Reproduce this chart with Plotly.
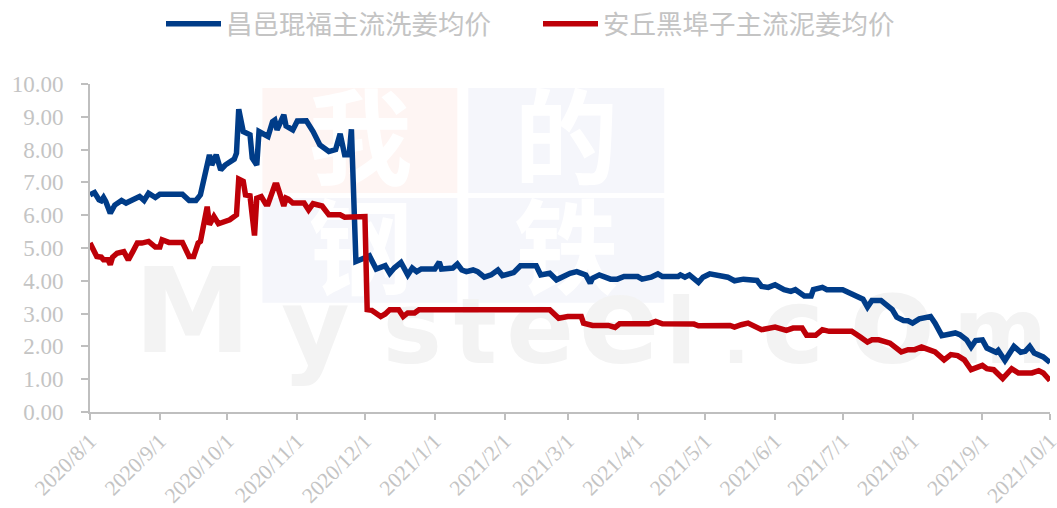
import plotly.graph_objects as go

blue_name = "昌邑琨福主流洗姜均价"
red_name = "安丘黑埠子主流泥姜均价"
x_ticks = ["2020-08-01","2020-09-01","2020-10-01","2020-11-01","2020-12-01","2021-01-01","2021-02-01","2021-03-01",
           "2021-04-01","2021-05-01","2021-06-01","2021-07-01","2021-08-01","2021-09-01","2021-10-01"]
x_tick_labels = ["2020/8/1","2020/9/1","2020/10/1","2020/11/1","2020/12/1","2021/1/1","2021/2/1","2021/3/1",
                 "2021/4/1","2021/5/1","2021/6/1","2021/7/1","2021/8/1","2021/9/1","2021/10/1"]
y_ticks = [0,1,2,3,4,5,6,7,8,9,10]
y_tick_labels = ["0.00","1.00","2.00","3.00","4.00","5.00","6.00","7.00","8.00","9.00","10.00"]

blue_dates = """2020-08-01 2020-08-03 2020-08-05 2020-08-06 2020-08-07 2020-08-08 2020-08-10 2020-08-12 2020-08-15 2020-08-17
2020-08-20 2020-08-22 2020-08-23 2020-08-25 2020-08-27 2020-08-30 2020-09-01 2020-09-11 2020-09-14 2020-09-17
2020-09-19 2020-09-23 2020-09-24 2020-09-26 2020-09-28 2020-09-30 2020-10-04 2020-10-05 2020-10-06 2020-10-08
2020-10-11 2020-10-12 2020-10-14 2020-10-15 2020-10-19 2020-10-21 2020-10-22 2020-10-23 2020-10-26 2020-10-27
2020-10-30 2020-11-01 2020-11-05 2020-11-08 2020-11-11 2020-11-15 2020-11-18 2020-11-20 2020-11-22 2020-11-24
2020-11-25 2020-11-27 2020-11-30 2020-12-03 2020-12-06 2020-12-10 2020-12-12 2020-12-14 2020-12-17 2020-12-20
2020-12-22 2020-12-24 2020-12-26 2021-01-01 2021-01-03 2021-01-04 2021-01-09 2021-01-11 2021-01-13 2021-01-15
2021-01-18 2021-01-20 2021-01-23 2021-01-26 2021-01-29 2021-01-31 2021-02-05 2021-02-08 2021-02-15 2021-02-17
2021-02-21 2021-02-24 2021-03-02 2021-03-05 2021-03-09 2021-03-11 2021-03-12 2021-03-15 2021-03-20 2021-03-23
2021-03-26 2021-04-01 2021-04-03 2021-04-07 2021-04-10 2021-04-12 2021-04-19 2021-04-20 2021-04-22 2021-04-24
2021-04-28 2021-04-30 2021-05-03 2021-05-07 2021-05-11 2021-05-14 2021-05-16 2021-05-18 2021-05-24 2021-05-26
2021-05-29 2021-06-01 2021-06-05 2021-06-08 2021-06-10 2021-06-14 2021-06-17 2021-06-18 2021-06-22 2021-06-24
2021-07-01 2021-07-04 2021-07-10 2021-07-12 2021-07-14 2021-07-18 2021-07-20 2021-07-23 2021-07-25 2021-07-28
2021-07-30 2021-08-01 2021-08-04 2021-08-06 2021-08-09 2021-08-11 2021-08-14 2021-08-20 2021-08-22 2021-08-25
2021-08-27 2021-08-29 2021-09-01 2021-09-03 2021-09-07 2021-09-08 2021-09-11 2021-09-15 2021-09-18 2021-09-20
2021-09-22 2021-09-24 2021-09-28 2021-10-01""".split()
blue_values = [6.62,6.69,6.47,6.44,6.54,6.42,6.06,6.31,6.45,6.37,
               6.47,6.55,6.57,6.45,6.67,6.54,6.64,6.64,6.45,6.45,
               6.62,7.84,7.53,7.84,7.38,7.53,7.71,7.89,9.23,8.55,
               8.45,7.74,7.53,8.55,8.40,8.85,8.90,8.60,9.06,8.72,
               8.60,8.87,8.88,8.55,8.14,7.94,8.00,8.48,7.84,7.84,
               8.62,4.59,4.66,4.76,4.36,4.46,4.23,4.39,4.56,4.18,
               4.39,4.28,4.36,4.36,4.57,4.36,4.39,4.51,4.33,4.28,
               4.33,4.28,4.11,4.18,4.33,4.16,4.25,4.46,4.46,4.18,
               4.23,4.03,4.23,4.28,4.18,3.93,4.08,4.18,4.05,4.05,
               4.13,4.13,4.05,4.11,4.21,4.13,4.13,4.18,4.11,4.18,
               3.95,4.11,4.21,4.15,4.11,4.00,4.01,4.05,4.01,3.83,
               3.80,3.88,3.73,3.68,3.73,3.54,3.54,3.73,3.80,3.73,
               3.73,3.62,3.44,3.20,3.40,3.40,3.30,3.12,2.89,2.79,
               2.78,2.71,2.84,2.86,2.91,2.71,2.33,2.41,2.36,2.20,
               1.98,2.18,2.20,1.95,1.82,1.88,1.57,2.00,1.82,1.85,
               2.00,1.80,1.68,1.51]

red_dates = """2020-08-01 2020-08-03 2020-08-04 2020-08-06 2020-08-07 2020-08-09 2020-08-10 2020-08-11 2020-08-13 2020-08-16
2020-08-18 2020-08-20 2020-08-22 2020-08-24 2020-08-27 2020-08-30 2020-09-01 2020-09-02 2020-09-05 2020-09-11
2020-09-14 2020-09-16 2020-09-18 2020-09-19 2020-09-22 2020-09-23 2020-09-25 2020-09-27 2020-09-30 2020-10-02
2020-10-05 2020-10-06 2020-10-08 2020-10-09 2020-10-11 2020-10-13 2020-10-14 2020-10-16 2020-10-18 2020-10-19
2020-10-22 2020-10-23 2020-10-26 2020-10-27 2020-10-28 2020-10-30 2020-11-04 2020-11-06 2020-11-08 2020-11-12
2020-11-15 2020-11-20 2020-11-22 2020-12-01 2020-12-02 2020-12-04 2020-12-08 2020-12-10 2020-12-12 2020-12-16
2020-12-18 2020-12-20 2020-12-23 2020-12-25 2021-02-21 2021-02-25 2021-03-01 2021-03-07 2021-03-08 2021-03-12
2021-03-19 2021-03-22 2021-03-24 2021-04-06 2021-04-09 2021-04-12 2021-04-26 2021-04-28 2021-05-12 2021-05-14
2021-05-17 2021-05-20 2021-05-26 2021-05-28 2021-06-01 2021-06-06 2021-06-09 2021-06-13 2021-06-15 2021-06-19
2021-06-22 2021-06-25 2021-07-05 2021-07-09 2021-07-12 2021-07-14 2021-07-17 2021-07-22 2021-07-27 2021-07-30
2021-08-02 2021-08-05 2021-08-11 2021-08-15 2021-08-18 2021-08-21 2021-08-24 2021-08-27 2021-09-01 2021-09-03
2021-09-06 2021-09-10 2021-09-14 2021-09-17 2021-09-23 2021-09-26 2021-09-28 2021-10-01""".split()
red_values = [5.15,4.89,4.74,4.72,4.64,4.64,4.49,4.72,4.84,4.89,
              4.64,4.89,5.15,5.15,5.20,5.03,5.03,5.25,5.17,5.17,
              4.74,4.74,5.15,5.20,6.26,5.71,5.96,5.74,5.84,5.86,
              6.01,7.10,7.03,6.62,6.59,5.38,6.52,6.57,6.34,6.34,
              6.92,6.92,6.28,6.52,6.49,6.37,6.37,6.16,6.35,6.28,
              6.01,6.01,5.94,5.96,3.12,3.10,2.91,2.99,3.12,3.12,
              2.91,3.02,3.02,3.12,3.12,2.86,2.91,2.91,2.71,2.64,
              2.64,2.58,2.69,2.69,2.76,2.69,2.68,2.63,2.64,2.59,
              2.66,2.71,2.51,2.53,2.59,2.49,2.56,2.56,2.34,2.34,
              2.51,2.46,2.46,2.28,2.13,2.20,2.20,2.10,1.83,1.90,
              1.90,1.98,1.83,1.59,1.75,1.72,1.59,1.29,1.42,1.32,
              1.29,1.02,1.32,1.19,1.19,1.26,1.19,0.96]

# Watermark (decorative backdrop)
wm_cjk = ["我","的","钢","铁"]
wm_letters = ["M","y","s","t","e","e","l",".","c","o","m"]

GRAY = "#C4C4C4"
AXIS = "#BFBFBF"
FONT = "Liberation Serif, Noto Sans CJK SC"
L, R, T, B = 89.5, 1050.0, 84.0, 412.3

wm_cjk_x = [360, 566, 360, 566]
wm_cjk_y = [151, 151, 261, 261]
wm_x = [192, 315, 412, 475, 540, 619, 681, 736, 793, 892, 1000]
wm_y = [323, 337, 338, 341, 338, 332, 341, 346, 337, 331, 341]
wm_size = [118, 105, 100, 90, 100, 120, 90, 70, 105, 125, 90]

fig = go.Figure()

fig.add_trace(go.Scatter(x=wm_x, y=wm_y, text=wm_letters, mode="text", showlegend=False, hoverinfo="skip",
                         cliponaxis=False, xaxis="x", yaxis="y",
                         textfont=dict(family="DejaVu Sans", size=wm_size, color="#F3F3F3", weight="bold")))
fig.add_trace(go.Scatter(x=wm_cjk_x, y=wm_cjk_y, text=wm_cjk, mode="text", showlegend=False, hoverinfo="skip",
                         cliponaxis=False, xaxis="x", yaxis="y",
                         textfont=dict(family="Noto Sans CJK SC", size=104, color="#FFFFFF", weight="bold")))

fig.add_trace(go.Scatter(x=blue_dates, y=blue_values, name=blue_name, mode="lines", xaxis="x2", yaxis="y2",
                         cliponaxis=False, line=dict(color="#003C88", width=5.5, shape="linear")))
fig.add_trace(go.Scatter(x=red_dates, y=red_values, name=red_name, mode="lines", xaxis="x2", yaxis="y2",
                         cliponaxis=False, line=dict(color="#BE0008", width=5.5, shape="linear")))

rects = [(262, 88, 457, 193, "#FEF5F3"), (468, 88, 664, 193, "#F5F6FB"),
         (262, 198, 457, 303, "#F5F6FB"), (468, 198, 664, 303, "#F5F6FB")]
shapes = [dict(type="rect", xref="x", yref="y", x0=a, y0=b, x1=c, y1=d, fillcolor=col, line=dict(width=0), layer="below")
          for a, b, c, d, col in rects]

W, H = 1057, 508
fig.update_layout(
    width=W, height=H, autosize=False,
    margin=dict(l=L, r=W - R, t=T, b=H - B, pad=0, autoexpand=False),
    paper_bgcolor="white", plot_bgcolor="rgba(0,0,0,0)",
    font=dict(family=FONT, color=GRAY),
    shapes=shapes, hovermode=False,
    xaxis=dict(range=[L, R], visible=False, fixedrange=True),
    yaxis=dict(range=[B, T], visible=False, fixedrange=True),
    xaxis2=dict(overlaying="x", type="date", range=["2020-08-01", "2021-10-01"], tickmode="array",
                tickvals=x_ticks, ticktext=x_tick_labels, tickangle=-45,
                tickfont=dict(family=FONT, size=21.5, color=GRAY), automargin=False,
                showgrid=False, zeroline=False, showline=True, linecolor=AXIS, linewidth=2, ticklabeloverflow="allow",
                ticks="outside", ticklen=6, tickwidth=2, tickcolor=AXIS, side="bottom"),
    yaxis2=dict(overlaying="y", range=[0, 10], tickmode="array", tickvals=y_ticks, ticktext=y_tick_labels,
                tickfont=dict(family=FONT, size=23, color=GRAY), showgrid=False, zeroline=False, showline=True,
                linecolor=AXIS, linewidth=2, automargin=False,
                ticks="outside", ticklen=7, tickwidth=2, tickcolor=AXIS, side="left", ticklabelstandoff=13),
    legend=dict(orientation="h", xref="container", x=161 / W, xanchor="left", yref="container", y=1.0, yanchor="top",
                font=dict(family="Noto Sans CJK SC", size=26.5, color=GRAY), itemwidth=55, entrywidth=307,
                bgcolor="rgba(0,0,0,0)", traceorder="normal"),
)
fig.write_html("out.html", config={"displayModeBar": False, "staticPlot": True},
               post_script="document.body.style.margin='0';document.documentElement.style.overflow='hidden';")
